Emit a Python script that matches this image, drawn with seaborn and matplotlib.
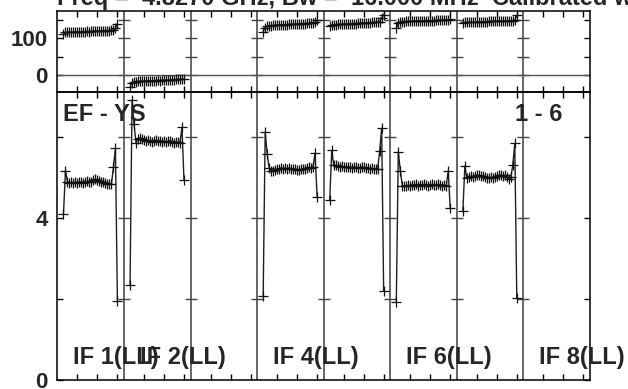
#!/usr/bin/env python3
# -*- coding: utf-8 -*-
"""
POSSM-style spectrum plot: phase (top) and amplitude (bottom) per IF
"""

import numpy as np
import pandas as pd
import matplotlib
matplotlib.use('Agg')
import matplotlib.pyplot as plt
import seaborn as sns

# channel axis, same for every IF
CHANNELS = list(range(3, 31))
IF_WIDTH = 100 / 3   # channel units in one IF box
N_IF = 8

# IFs that have data
DATA_IFS = [1, 2, 4, 5, 6, 7]

amp_if1 = [4.11, 5.17, 4.90, 4.87, 4.88, 4.86, 4.89, 4.87, 4.90, 4.88,
           4.86, 4.89, 4.91, 4.88, 4.90, 4.93, 4.96, 4.94, 4.92, 4.89,
           4.90, 4.87, 4.85, 4.84, 4.83, 5.25, 5.72, 1.96]
amp_if2 = [2.35, 6.91, 6.31, 5.86, 5.96, 5.98, 5.95, 5.93, 5.90, 5.92,
           5.89, 5.87, 5.90, 5.92, 5.89, 5.91, 5.88, 5.90, 5.87, 5.89,
           5.91, 5.88, 5.86, 5.88, 5.87, 5.86, 6.24, 4.94]
amp_if4 = [2.07, 6.12, 5.59, 5.23, 5.17, 5.15, 5.18, 5.20, 5.22, 5.24,
           5.22, 5.23, 5.21, 5.24, 5.22, 5.20, 5.21, 5.19, 5.18, 5.20,
           5.22, 5.21, 5.23, 5.25, 5.24, 5.27, 5.60, 4.53]
amp_if5 = [4.45, 5.67, 5.31, 5.30, 5.29, 5.27, 5.28, 5.26, 5.27, 5.25,
           5.26, 5.24, 5.26, 5.25, 5.23, 5.24, 5.26, 5.25, 5.23, 5.24,
           5.22, 5.23, 5.21, 5.22, 5.20, 5.66, 6.22, 2.19]
amp_if6 = [1.93, 5.64, 5.17, 4.80, 4.78, 4.79, 4.81, 4.80, 4.82, 4.81,
           4.83, 4.80, 4.82, 4.81, 4.83, 4.82, 4.80, 4.81, 4.83, 4.82,
           4.81, 4.83, 4.82, 4.80, 4.81, 4.79, 5.17, 4.24]
amp_if7 = [4.18, 5.28, 4.98, 5.01, 5.03, 5.02, 5.04, 5.06, 5.05, 5.03,
           5.04, 5.01, 4.99, 4.98, 5.00, 4.99, 5.01, 5.03, 5.05, 5.06,
           5.04, 5.05, 5.02, 4.95, 5.00, 5.31, 5.84, 2.03]

phase_if1 = [112, 116, 116, 117, 116, 117, 117, 118, 117, 118,
             118, 118, 119, 118, 119, 119, 120, 119, 120, 120,
             121, 120, 121, 121, 122, 122, 127, 139]
phase_if2 = [-33, -22, -18, -18, -17, -17, -16, -17, -16, -16,
             -15, -16, -15, -15, -14, -15, -14, -14, -13, -14,
             -13, -13, -13, -12, -12, -12, -11, -11]
phase_if4 = [118, 129, 133, 134, 134, 135, 135, 136, 136, 136,
             137, 137, 137, 138, 138, 138, 139, 139, 139, 140,
             140, 140, 141, 141, 141, 142, 143, 150]
phase_if5 = [134, 136, 137, 137, 138, 138, 138, 139, 139, 139,
             140, 140, 140, 140, 141, 141, 141, 142, 142, 142,
             142, 143, 143, 143, 144, 144, 156, 163]
phase_if6 = [127, 142, 145, 145, 145, 146, 146, 146, 146, 147,
             147, 147, 147, 147, 148, 148, 148, 148, 148, 148,
             149, 149, 149, 149, 149, 149, 150, 151]
phase_if7 = [141, 143, 143, 143, 144, 144, 144, 144, 145, 145,
             145, 145, 145, 146, 146, 146, 146, 146, 147, 147,
             147, 147, 147, 148, 148, 148, 149, 162]

AMPS = [amp_if1, amp_if2, amp_if4, amp_if5, amp_if6, amp_if7]
PHASES = [phase_if1, phase_if2, phase_if4, phase_if5, phase_if6, phase_if7]

LABEL_IFS = [1, 2, 4, 6, 8]
LABEL_TEXT = ["IF 1(LL)", "IF 2(LL)", "IF 4(LL)", "IF 6(LL)", "IF 8(LL)"]

AMP_TICKS = [0, 2, 4, 6]
AMP_TICKLABELS = ["0", "", "4", ""]
PHASE_TICKS = [0, 50, 100, 150]
PHASE_TICKLABELS = ["0", "", "100", ""]
CHAN_TICKS = [10, 20, 30]

TITLE = "Freq =  4.8270 GHz, Bw =  16.000 MHz  Calibrated with CL 2"
BASELINE = "EF - YS"
STOKES = "1 - 6"

sns.set_theme(style='white')
plt.rcParams['font.family'] = ['Liberation Sans', 'DejaVu Sans']
plt.rcParams['font.weight'] = 'bold'

W, H = 628, 389
X0, X1 = 57.5, 590
Y_TOP, Y_MID, Y_BOT = 11, 92, 380

fig = plt.figure(figsize=(W / 100, H / 100), dpi=100)
ax_ph = fig.add_axes([X0 / W, 1 - Y_MID / H, (X1 - X0) / W, (Y_MID - Y_TOP) / H])
ax_amp = fig.add_axes([X0 / W, 1 - Y_BOT / H, (X1 - X0) / W, (Y_BOT - Y_MID) / H])

# long table
rows = []
for ifn, amp, ph in zip(DATA_IFS, AMPS, PHASES):
    for ch, a, p in zip(CHANNELS, amp, ph):
        rows.append({'IF': ifn, 'x': (ifn - 1) * IF_WIDTH + ch, 'amp': a, 'phase': p})
df = pd.DataFrame(rows)

line_kw = dict(color='#1e1e1e', linewidth=1.0, marker='+', markersize=6.5,
               markeredgewidth=0.9, markeredgecolor='#111111')
for ifn in DATA_IFS:
    sub = df[df['IF'] == ifn]
    sns.lineplot(data=sub, x='x', y='amp', ax=ax_amp, sort=False, **line_kw)
    sns.lineplot(data=sub, x='x', y='phase', ax=ax_ph, sort=False, **line_kw)

boundaries = [k * IF_WIDTH for k in range(1, N_IF)]
xticks = [k * IF_WIDTH + t for k in range(N_IF) for t in CHAN_TICKS]

for ax, yt, ylab, ylim in [(ax_ph, PHASE_TICKS, PHASE_TICKLABELS, (-46, 174)),
                           (ax_amp, AMP_TICKS, AMP_TICKLABELS, (0, 7.11))]:
    ax.set_xlim(0, N_IF * IF_WIDTH)
    ax.set_ylim(*ylim)
    ax.set_xlabel('')
    ax.set_ylabel('')
    ax.set_xticks(xticks)
    ax.set_xticklabels([])
    ax.set_yticks(yt)
    ax.set_yticklabels(ylab, fontsize=16, fontweight='bold')
    ax.tick_params(axis='x', direction='in', length=4.3, width=1, color='black',
                   top=True, bottom=True)
    ax.tick_params(axis='y', direction='in', length=4.3, width=1, color='black',
                   left=True, right=True, pad=7)
    for s in ax.spines.values():
        s.set_color('black')
        s.set_linewidth(1.1)
    for b in boundaries:
        ax.axvline(b, color='#4d4d4d', linewidth=1.2, zorder=1)
        ax.hlines(yt, b - 3, b + 3, color='#444444', linewidth=1, zorder=1)
    ax.patch.set_alpha(0)

ax_ph.axhline(0, color='#555555', linewidth=1, zorder=1)

# labels inside the amplitude box
ax_amp.text(2.8, 6.84, BASELINE, ha='left', va='top', fontsize=17, fontweight='bold')
ax_amp.text(252.8, 6.84, STOKES, ha='right', va='top', fontsize=17, fontweight='bold')
for ifn, lab in zip(LABEL_IFS, LABEL_TEXT):
    ax_amp.text((ifn - 1) * IF_WIDTH + 7.8, 0.40, lab, ha='left', va='baseline',
                fontsize=17, fontweight='bold')

fig.text(X0 / W, 1 - 5 / H, TITLE, ha='left', va='baseline', fontsize=17, fontweight='bold')

fig.savefig('out.png', dpi=100)
plt.close(fig)
